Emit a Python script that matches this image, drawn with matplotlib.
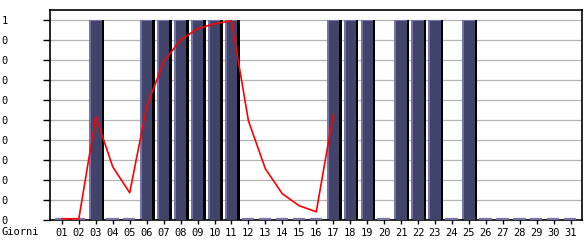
import matplotlib.pyplot as plt

days = list(range(1, 32))
day_labels = ["%02d" % d for d in days]
presence = [0, 0, 1, 0, 0, 1, 1, 1, 1, 1, 1, 0, 0, 0, 0, 0,
            1, 1, 1, 0, 1, 1, 1, 0, 1, 0, 0, 0, 0, 0, 0]
trend_days = list(range(1, 18))
trend = [0.0, 0.0, 0.51, 0.26, 0.13, 0.56, 0.785, 0.895, 0.95, 0.975, 0.99,
         0.49, 0.25, 0.125, 0.065, 0.035, 0.52]
ytick_vals = [0.0, 0.1, 0.2, 0.3, 0.4, 0.5, 0.6, 0.7, 0.8, 0.9, 1.0]
ytick_text = ["0"] * 10 + ["1"]

fig = plt.figure(figsize=(5.85, 2.4), dpi=100)
ax = fig.add_axes([50 / 585, 20 / 240, 532 / 585, 210 / 240])

font = {'family': 'DejaVu Sans Mono', 'size': 7.5}

on_days = [d for d, v in zip(days, presence) if v > 0]
on_vals = [v for v in presence if v > 0]
off_days = [d for d, v in zip(days, presence) if v == 0]

# bars: light left strip, dark body, black shadow on the right
ax.bar([d - 0.39 for d in on_days], on_vals, width=0.73, align='edge',
       color='#7474aa', zorder=2)
ax.bar([d - 0.27 for d in on_days], [v - 0.006 for v in on_vals], width=0.61,
       align='edge', color='#414468', zorder=3)
ax.bar([d + 0.34 for d in on_days], on_vals, width=0.15, align='edge',
       color='black', zorder=3)

# empty days: short light dash on the baseline
ax.hlines([0.003] * len(off_days), [d - 0.39 for d in off_days],
          [d + 0.34 for d in off_days], color='#7474aa', linewidth=1.6,
          zorder=4)

ax.plot(trend_days, [v + 0.006 for v in trend], color='#ff0000',
        linewidth=1.2, zorder=5, clip_on=False)

ax.set_xlim(0.3, 31.67)
ax.set_ylim(0, 1.05)
ax.set_xticks(days)
ax.set_xticklabels(day_labels, fontdict=font)
ax.set_yticks(ytick_vals)
ax.set_yticklabels(ytick_text, fontdict=font)
ax.tick_params(axis='y', length=5, width=1, pad=25.5)
ax.tick_params(axis='x', length=3, width=1, pad=2.5)

ax.grid(axis='y', color='#b4b4b4', linewidth=0.9, zorder=0)
ax.set_axisbelow(True)
for s in ax.spines.values():
    s.set_linewidth(1.2)
    s.set_color('black')

fig.text(2 / 585, 8 / 240, "Giorni", fontdict=font, ha='left', va='center')

fig.savefig("out.png", dpi=100)
